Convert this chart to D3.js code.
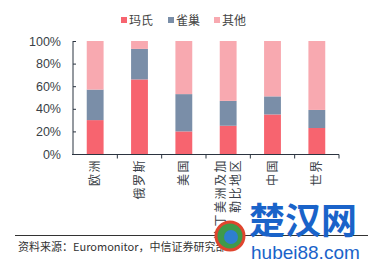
<!DOCTYPE html>
<meta charset="utf-8">
<title>市场份额</title>
<style>
  body { margin: 0; background: #fff; }
  svg { display: block; font-family: 'Liberation Sans', 'Noto Sans CJK SC', sans-serif; }
  .cn { font-family: 'Noto Sans CJK SC', sans-serif; }
</style>
<svg width="368" height="262"></svg>
<script src="https://cdn.jsdelivr.net/npm/d3@7"></script>
<script>
// regions along the x axis (label lines, second line optional)
var regions = [["欧洲"], ["俄罗斯"], ["美国"], ["拉丁美洲及加", "勒比地区"], ["中国"], ["世界"]];
var series = ["玛氏", "雀巢", "其他"];
var mars = [30, 66, 20, 25, 35, 23];
var nestle = [27, 27, 33, 22, 16, 16];
var yTicks = [0, 20, 40, 60, 80, 100];
var colors = ["#f7646f", "#7a8ea8", "#f8a9b0"];

var svg = d3.select("svg");
var x = d3.scaleBand().domain(d3.range(regions.length)).range([73, 339]).paddingInner(0.62).paddingOuter(0.31);
var y = d3.scaleLinear().domain([0, 100]).range([154, 41]);

var rows = regions.map(function(r, i) {
  return { i: i, "玛氏": mars[i], "雀巢": nestle[i], "其他": 100 - mars[i] - nestle[i] };
});
var stack = d3.stack().keys(series)(rows);

svg.append("g").selectAll("g")
  .data(stack).enter().append("g")
  .attr("fill", function(d, k) { return colors[k]; })
  .selectAll("rect")
  .data(function(d) { return d; }).enter().append("rect")
  .attr("x", function(d) { return x(d.data.i); })
  .attr("width", x.bandwidth())
  .attr("y", function(d) { return y(d[1]); })
  .attr("height", function(d) { return y(d[0]) - y(d[1]); });

// y axis
var yAxis = svg.append("g").attr("transform", "translate(73,0)")
  .call(d3.axisLeft(y).tickValues(yTicks).tickSize(-3).tickPadding(12).tickFormat(function(d) { return d + "%"; }));
yAxis.select(".domain").attr("stroke", "#2b3440").attr("d", "M0,41V154");
yAxis.selectAll(".tick line").attr("stroke", "#2b3440");
yAxis.selectAll("text").attr("font-size", 12.5).attr("fill", "#3a3f47");

// x axis line with boundary ticks
var bounds = d3.range(regions.length + 1).map(function(i) { return 73 + i * x.step(); });
var xg = svg.append("g");
xg.append("line").attr("x1", 72).attr("x2", 339).attr("y1", 154.5).attr("y2", 154.5).attr("stroke", "#2b3440");
xg.selectAll(".bt").data(bounds.slice(1)).enter().append("line")
  .attr("x1", function(d) { return d; }).attr("x2", function(d) { return d; })
  .attr("y1", 154.5).attr("y2", 158.5).attr("stroke", "#2b3440");

// rotated category labels
regions.forEach(function(lines, i) {
  var cx = x(i) + x.bandwidth() / 2;
  lines.forEach(function(t, j) {
    var lx = cx + (lines.length > 1 ? (j - 0.5) * 15 : 0) + 4;
    svg.append("text").attr("class", "cn")
      .attr("transform", "translate(" + lx + ",159) rotate(-90)")
      .attr("text-anchor", "end")
      .attr("font-size", 12)
      .attr("letter-spacing", 1.5)
      .attr("fill", "#3a3f47")
      .text(t);
  });
});

// legend
var lg = svg.append("g").attr("class", "cn");
var lx = [121, 168, 214];
series.forEach(function(s, k) {
  lg.append("rect").attr("x", lx[k]).attr("y", 17).attr("width", 6).attr("height", 6).attr("fill", colors[k]);
  lg.append("text").attr("x", lx[k] + 8).attr("y", 24.5).attr("font-size", 12).attr("fill", "#444").text(s);
});

// source line
svg.append("line").attr("x1", 15).attr("x2", 368).attr("y1", 235.5).attr("y2", 235.5).attr("stroke", "#333");
svg.append("text").attr("class", "cn").attr("x", 18).attr("y", 251).attr("font-size", 11).attr("fill", "#333")
  .text("资料来源：Euromonitor，中信证券研究部");

// watermark
var wm = svg.append("g");
wm.append("circle").attr("cx", 230).attr("cy", 236).attr("r", 14).attr("fill", "#3f9a4a").attr("stroke", "#e0452e").attr("stroke-width", 3);
wm.append("circle").attr("cx", 231).attr("cy", 237).attr("r", 7).attr("fill", "#2e7fd0");
wm.append("text").attr("class", "cn").attr("x", 249).attr("y", 234).attr("font-size", 36).attr("font-weight", "bold")
  .attr("fill", "#1a63c9").text("楚汉网");
wm.append("text").attr("x", 251).attr("y", 259).attr("font-size", 19)
  .attr("fill", "#1a63c9").text("hubei88.com");
</script>
